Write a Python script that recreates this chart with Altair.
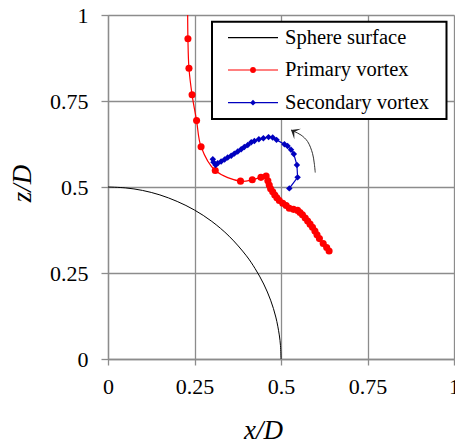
import altair as alt
import pandas as pd

# ---- data ----
sphere_x = [0.0, 0.05, 0.10, 0.15, 0.20, 0.25, 0.30, 0.35, 0.40, 0.425, 0.45, 0.47, 0.485, 0.495, 0.4985, 0.50]
sphere_z = [0.50, 0.4975, 0.490, 0.477, 0.458, 0.433, 0.400, 0.357, 0.300, 0.263, 0.218, 0.171, 0.122, 0.070, 0.039, 0.0]

primary_x = [0.230, 0.231, 0.234, 0.243, 0.256, 0.269, 0.310, 0.383, 0.417, 0.442, 0.457, 0.462,
             0.466, 0.470, 0.476, 0.482, 0.488, 0.495, 0.505, 0.515, 0.524, 0.536, 0.548, 0.555,
             0.562, 0.570, 0.577, 0.584, 0.591, 0.598, 0.604, 0.611, 0.622, 0.632, 0.639]
primary_z = [1.06, 0.931, 0.845, 0.768, 0.693, 0.617, 0.548, 0.517, 0.521, 0.528, 0.532, 0.518,
             0.506, 0.495, 0.486, 0.477, 0.469, 0.461, 0.453, 0.446, 0.438, 0.435, 0.432, 0.426,
             0.419, 0.410, 0.401, 0.392, 0.383, 0.372, 0.361, 0.350, 0.336, 0.324, 0.314]

secondary_x = [0.303, 0.305, 0.311, 0.317, 0.327, 0.337, 0.346, 0.356, 0.365, 0.375, 0.385, 0.394,
               0.404, 0.414, 0.423, 0.436, 0.449, 0.464, 0.476, 0.487, 0.510, 0.519, 0.529, 0.537,
               0.546, 0.548, 0.524]
secondary_z = [0.581, 0.572, 0.564, 0.569, 0.574, 0.580, 0.586, 0.591, 0.597, 0.603, 0.610, 0.616,
               0.622, 0.630, 0.634, 0.639, 0.642, 0.645, 0.644, 0.637, 0.624, 0.619, 0.608, 0.596,
               0.564, 0.528, 0.496]

arrow_x = [0.599, 0.596, 0.591, 0.577, 0.558, 0.539, 0.529]
arrow_z = [0.542, 0.570, 0.598, 0.632, 0.651, 0.661, 0.666]

legend_labels = ["Sphere surface", "Primary vortex", "Secondary vortex"]
x_ticks = [0, 0.25, 0.5, 0.75, 1]
z_ticks = [0, 0.25, 0.5, 0.75, 1]

FONT = "Liberation Serif"
GRID = "#8c8c8c"
RED = "#ff0000"
BLUE = "#0000bf"


def frame(xs, zs):
    return pd.DataFrame({"x": xs, "z": zs, "i": list(range(len(xs)))})


xscale = alt.Scale(domain=[0, 1], nice=False)
zscale = alt.Scale(domain=[0, 1], nice=False)

X = alt.X("x:Q", scale=xscale, axis=alt.Axis(
    values=x_ticks, format=".2~f", title="x/D",
    labelFont=FONT, labelFontSize=22, labelColor="black", labelPadding=11,
    labelFlush=False, labelOverlap=False,
    tickSize=6, tickColor=GRID, tickWidth=1.3,
    domainColor=GRID, domainWidth=1.3,
    grid=True, gridColor=GRID, gridWidth=1.3,
    titleFont=FONT, titleFontSize=27, titleFontStyle="italic", titleFontWeight="normal",
    titleColor="black", titleX=155, titleY=79, titleAlign="center", titleBaseline="alphabetic",
))
Y = alt.Y("z:Q", scale=zscale, axis=alt.Axis(
    values=z_ticks, format=".2~f", title="z/D",
    labelFont=FONT, labelFontSize=22, labelColor="black", labelPadding=13,
    labelFlush=False, labelOverlap=False,
    tickSize=7, tickColor=GRID, tickWidth=1.3,
    domainColor=GRID, domainWidth=1.3,
    grid=True, gridColor=GRID, gridWidth=1.3,
    titleFont=FONT, titleFontSize=27, titleFontStyle="italic", titleFontWeight="normal",
    titleColor="black", titleX=-78, titleY=168, titleAngle=270, titleAlign="center",
    titleBaseline="alphabetic",
))
O = alt.Order("i:Q")

sphere = alt.Chart(frame(sphere_x, sphere_z)).mark_line(
    color="black", strokeWidth=1, interpolate="catmull-rom", clip=True
).encode(x=X, y=Y, order=O)

prim_df = frame(primary_x, primary_z)
prim_line = alt.Chart(prim_df).mark_line(
    color=RED, strokeWidth=1.2, interpolate="catmull-rom", clip=True
).encode(x=X, y=Y, order=O)
prim_pts = alt.Chart(prim_df).mark_point(
    shape="circle", filled=True, size=50, color=RED, opacity=1, clip=True
).encode(x=X, y=Y)

sec_df = frame(secondary_x, secondary_z)
sec_line = alt.Chart(sec_df).mark_line(
    color=BLUE, strokeWidth=1.2, clip=True
).encode(x=X, y=Y, order=O)
sec_pts = alt.Chart(sec_df).mark_point(
    shape="diamond", filled=True, size=42, color=BLUE, opacity=1, clip=True
).encode(x=X, y=Y)

arr_df = frame(arrow_x, arrow_z)
arr_line = alt.Chart(arr_df).mark_line(
    color="#333333", strokeWidth=1, interpolate="catmull-rom"
).encode(x=X, y=Y, order=O)
arr_head = alt.Chart(arr_df.tail(1)).mark_point(
    shape="M0,0L1,-0.8L0.5,0L1,0.8Z", filled=True, size=240, color="#222222",
    opacity=1, angle=32
).encode(x=X, y=Y)

# ---- legend (drawn as an annotation box) ----
one = pd.DataFrame({"k": [0]})
box = alt.Chart(one).mark_rect(fill="white", stroke="black", strokeWidth=2).encode(
    x=alt.value(104), x2=alt.value(338.5), y=alt.value(6.7), y2=alt.value(104)
)
legend_layers = [box]
row_y = [22.7, 55.0, 87.7]
row_col = ["black", RED, BLUE]
row_shape = [None, "circle", "diamond"]
for lab, yy, col, shp in zip(legend_labels, row_y, row_col, row_shape):
    d = pd.DataFrame({"label": [lab]})
    legend_layers.append(
        alt.Chart(d).mark_rule(color=col, strokeWidth=1.2).encode(
            x=alt.value(120), x2=alt.value(170), y=alt.value(yy)
        )
    )
    if shp:
        legend_layers.append(
            alt.Chart(d).mark_point(shape=shp, filled=True, size=34, color=col, opacity=1).encode(
                x=alt.value(145), y=alt.value(yy)
            )
        )
    legend_layers.append(
        alt.Chart(d).mark_text(
            font=FONT, fontSize=20.5, align="left", baseline="middle", color="black"
        ).encode(x=alt.value(177), y=alt.value(yy), text="label:N")
    )

chart = alt.layer(
    sphere, prim_line, prim_pts, sec_line, sec_pts, arr_line, arr_head, *legend_layers
).properties(
    width=346, height=344,
    autosize=alt.AutoSizeParams(type="none"),
    padding={"left": 108, "top": 15, "right": 1, "bottom": 86},
).configure_view(strokeWidth=0).configure(background="white")

chart.save("out.html", embed_options={"renderer": "svg", "actions": False})
